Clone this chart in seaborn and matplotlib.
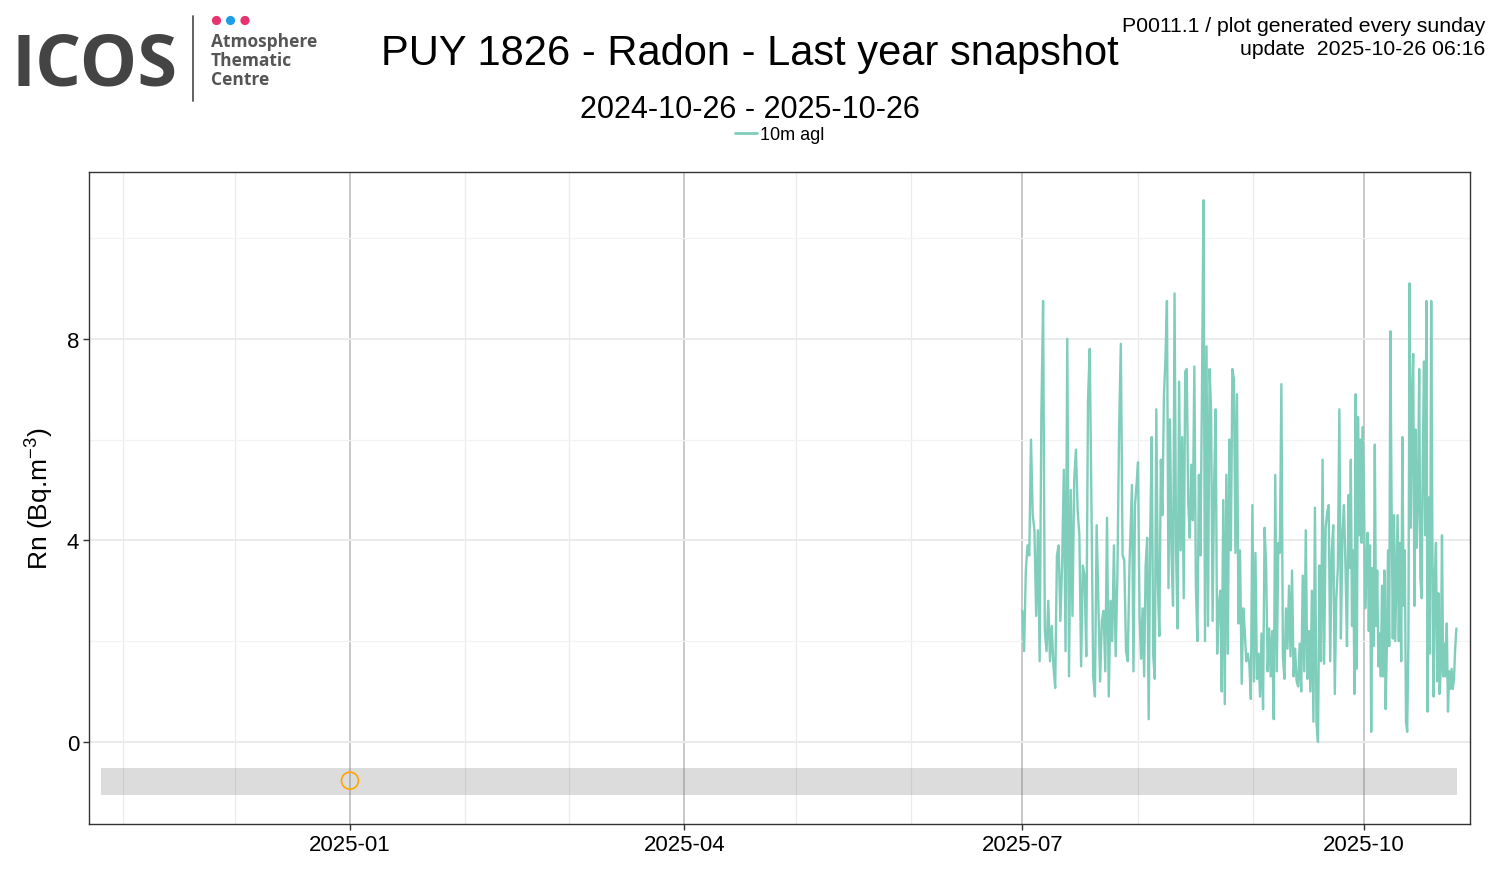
import numpy as np
import pandas as pd
import matplotlib
matplotlib.use("Agg")
import matplotlib.pyplot as plt
import matplotlib.dates as mdates
from matplotlib.lines import Line2D
from matplotlib.patches import Circle
import seaborn as sns

# radon, 10m agl in four chunks (start, end, values)
jul_span = ("2025-07-01 00:00", "2025-07-29 20:00")
rn_jul = [2.6, 1.8, 3.4, 3.9, 3.7, 6.0, 4.5, 4.2, 2.5, 4.2, 1.6, 6.5, 8.75, 2.2, 1.8, 2.8,
          1.6, 2.3, 1.5, 1.07, 3.7, 3.9, 2.4, 3.5, 5.4, 1.8, 8.0, 1.3, 5.0, 2.5, 5.2, 5.8,
          4.6, 4.1, 1.5, 3.5, 3.3, 1.7, 6.8, 7.8, 4.7, 1.3, 0.9, 4.3, 2.75, 1.2, 2.4, 2.6,
          1.4, 4.45, 0.9, 2.8, 2.0, 3.9, 1.7, 3.3, 6.2, 7.9, 3.7, 3.6, 1.8, 1.6, 3.5]

aug_span = ("2025-07-30 12:00", "2025-08-28 14:00")
rn_aug = [5.1, 1.4, 4.7, 5.1, 5.55, 2.5, 1.65, 2.65, 1.3, 3.5, 4.05, 0.45, 4.1, 6.05, 1.7,
          1.25, 6.6, 3.15, 2.1, 5.6, 4.5, 6.85, 7.6, 8.75, 3.05, 6.4, 3.75, 2.7, 8.9, 3.75,
          2.25, 7.15, 3.8, 6.05, 2.85, 7.35, 7.4, 4.75, 4.05, 5.5, 4.4, 7.45, 3.1, 2.0, 5.3,
          3.7, 6.9, 10.75, 2.0, 7.85, 2.3, 7.4, 6.6, 2.4, 5.1, 6.6, 1.75, 2.7, 3.0, 1.0,
          4.8, 0.75, 5.3, 1.75, 6.0, 3.8, 7.4, 7.2, 3.75, 6.9, 2.35, 3.8]

sep_span = ("2025-08-29 01:00", "2025-09-27 05:00")
rn_sep = [1.15, 2.65, 2.2, 1.6, 1.75, 1.55, 0.85, 4.7, 1.2, 3.75, 1.25, 1.75, 0.9, 2.15,
          0.65, 4.25, 3.5, 1.4, 2.25, 1.3, 2.2, 0.45, 5.3, 1.4, 3.95, 3.75, 7.1, 1.7, 1.25,
          2.65, 1.85, 3.1, 1.7, 3.4, 1.3, 1.85, 1.2, 1.1, 1.95, 1.0, 3.3, 1.4, 4.2, 1.25,
          2.2, 1.0, 3.0, 0.4, 4.65, 0.37, 0.0, 3.5, 1.6, 5.6, 1.55, 4.25, 4.55, 4.7, 1.6,
          3.75, 4.3, 0.95, 2.85, 3.45, 6.6, 2.05, 4.1, 4.7, 3.5, 1.9, 4.9, 3.45]

oct_span = ("2025-09-27 10:00", "2025-10-25 20:00")
rn_oct = [5.6, 2.3, 3.8, 0.95, 6.9, 1.45, 6.45, 4.1, 6.0, 3.95, 6.25, 4.85, 2.65, 3.5,
          4.15, 2.2, 3.9, 0.2, 3.45, 1.9, 5.9, 2.3, 3.4, 1.5, 2.15, 1.3, 3.1, 1.3, 3.4,
          0.65, 1.85, 3.8, 1.9, 8.15, 4.65, 2.05, 4.5, 2.0, 3.3, 4.5, 2.0, 3.95, 1.6, 6.05,
          2.7, 3.8, 0.4, 0.2, 2.0, 9.1, 4.25, 6.65, 7.7, 2.7, 6.2, 3.85, 4.85, 7.4, 3.25,
          2.85, 5.65, 7.55, 4.1, 8.75, 0.6, 4.85, 1.75, 8.75, 4.05, 0.9, 3.25, 3.95, 1.2,
          2.95, 0.95, 1.45, 4.1, 1.3, 1.95, 1.3, 2.35, 0.6, 1.4, 1.05, 1.45, 1.05, 1.25,
          1.85, 2.25]

# flag strip and flagged point
band_span = ("2024-10-26", "2025-10-26")
band_low, band_high = -1.05, -0.52
flag_time = ["2025-01-01"]
flag_value = [-0.77]

line_color = "#7fcdbb"

segments = [(jul_span, rn_jul), (aug_span, rn_aug), (sep_span, rn_sep), (oct_span, rn_oct)]
frames = []
for (start, end), vals in segments:
    frames.append(pd.DataFrame({"time": pd.date_range(start, end, periods=len(vals)), "rn": vals}))
df = pd.concat(frames, ignore_index=True)
flags = pd.DataFrame({"time": pd.to_datetime(flag_time), "rn": flag_value})

sns.set_theme(style="white")
plt.rcParams["font.family"] = ["Liberation Sans", "DejaVu Sans"]
plt.rcParams["mathtext.default"] = "regular"
plt.rcParams["text.color"] = "black"
plt.rcParams["axes.labelcolor"] = "black"

fig = plt.figure(figsize=(15, 8.7), dpi=100)
ax = fig.add_axes([89 / 1500, 1 - 825 / 870, (1470 - 89) / 1500, (825 - 173) / 870])

bx = pd.to_datetime(list(band_span))
ax.fill_between(bx, band_low, band_high, color="#7f7f7f", alpha=0.27, lw=0, zorder=2)

sns.lineplot(data=df, x="time", y="rn", color=line_color, lw=1.7, ax=ax,
             estimator=None, legend=False, zorder=3)
sns.scatterplot(data=flags, x="time", y="rn", ax=ax, marker="o", s=150,
                facecolor="none", edgecolor="#ffa500", linewidth=1.2, zorder=4, legend=False)

ax.set_xlim(pd.Timestamp("2024-10-22 18:00"), pd.Timestamp("2025-10-29 12:00"))
ax.set_ylim(-1.63, 11.31)
ax.xaxis.set_major_locator(mdates.MonthLocator(bymonth=[1, 4, 7, 10]))
ax.xaxis.set_minor_locator(mdates.MonthLocator())
ax.xaxis.set_major_formatter(mdates.DateFormatter("%Y-%m"))
ax.set_yticks([0, 4, 8])
ax.set_yticks([2, 6, 10], minor=True)

ax.set_axisbelow(True)
ax.grid(which="major", axis="x", color="#c8c8c8", lw=1.4)
ax.grid(which="minor", axis="x", color="#ebebeb", lw=0.9)
ax.grid(which="major", axis="y", color="#ebebeb", lw=1.4)
ax.grid(which="minor", axis="y", color="#f3f3f3", lw=0.9)

ax.tick_params(which="major", length=4, width=1, color="#333333", labelsize=16,
               labelcolor="black", direction="out", bottom=True, left=True, pad=3)
ax.tick_params(which="minor", length=0)
for s in ax.spines.values():
    s.set_color("#333333")
    s.set_linewidth(1.0)

ax.set_xlabel("")
ax.set_ylabel("Rn (Bq.m$^{-3}$)", fontsize=19, labelpad=8)

# titles and stamp
fig.text(0.5, 1 - 65 / 870, "PUY 1826 - Radon - Last year snapshot", ha="center",
         va="baseline", fontsize=30)
fig.text(0.5, 1 - 118 / 870, "2024-10-26 - 2025-10-26", ha="center", va="baseline", fontsize=22)
fig.text(1485 / 1500, 1 - 32 / 870, "P0011.1 / plot generated every sunday", ha="right",
         va="baseline", fontsize=15.3)
fig.text(1485 / 1500, 1 - 55 / 870, "update  2025-10-26 06:16", ha="right",
         va="baseline", fontsize=15.3)

handle = Line2D([], [], color=line_color, lw=2)
fig.legend([handle], ["10m agl"], loc="center", bbox_to_anchor=(0.52, 1 - 136 / 870),
           frameon=False, fontsize=13, handlelength=1.2, handletextpad=0.2)

# ICOS logo
lg = fig.add_axes([0, 1 - 110 / 870, 345 / 1500, 110 / 870])
lg.set_xlim(0, 345)
lg.set_ylim(110, 0)
lg.axis("off")
lg.text(11, 86, "ICOS", fontsize=52, fontweight="bold", color="#444444",
        family=["Open Sans", "DejaVu Sans"], va="baseline", ha="left")
lg.plot([193, 193], [17, 102], color="#555555", lw=1.3)
for cx, col in zip([216.5, 230.5, 245], ["#e8336f", "#1e9ee8", "#e8336f"]):
    lg.add_patch(Circle((cx, 21.5), 4.6, color=col, lw=0))
for i, word in enumerate(["Atmosphere", "Thematic", "Centre"]):
    lg.text(211, 47 + 19 * i, word, fontsize=12.5, fontweight="bold", color="#555555",
            family=["Open Sans", "DejaVu Sans"], va="baseline", ha="left")

fig.savefig("out.png", dpi=100)
